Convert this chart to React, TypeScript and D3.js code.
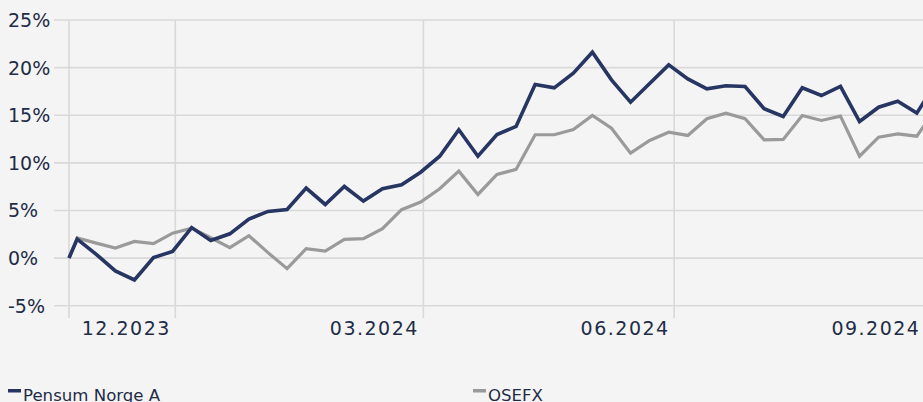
import React, { useRef, useEffect } from 'react';
import * as d3 from 'd3';

// weekly observations (first point is the start date)
const dates = [
  '2023-10-23', '2023-10-26', '2023-11-02', '2023-11-09', '2023-11-16', '2023-11-23', '2023-11-30',
  '2023-12-07', '2023-12-14', '2023-12-21', '2023-12-28', '2024-01-04', '2024-01-11', '2024-01-18',
  '2024-01-25', '2024-02-01', '2024-02-08', '2024-02-15', '2024-02-22', '2024-02-29', '2024-03-07',
  '2024-03-14', '2024-03-21', '2024-03-28', '2024-04-04', '2024-04-11', '2024-04-18', '2024-04-25',
  '2024-05-02', '2024-05-09', '2024-05-16', '2024-05-23', '2024-05-30', '2024-06-06', '2024-06-13',
  '2024-06-20', '2024-06-27', '2024-07-04', '2024-07-11', '2024-07-18', '2024-07-25', '2024-08-01',
  '2024-08-08', '2024-08-15', '2024-08-22', '2024-08-29', '2024-09-05',
];

const pensum = [
  0, 2.0, 0.4, -1.35, -2.3, 0.05, 0.7, 3.2, 1.85, 2.55, 4.1, 4.9, 5.1, 7.35,
  5.63, 7.52, 5.98, 7.28, 7.7, 9.02, 10.7, 13.47, 10.7, 12.98, 13.82, 18.23, 17.88, 19.41,
  21.62, 18.72, 16.37, 18.33, 20.29, 18.82, 17.78, 18.09, 18.02, 15.68, 14.87, 17.88, 17.07, 18.02,
  14.34, 15.84, 16.47, 15.22, 18.4,
];

const osefx = [
  0, 2.12, 1.57, 1.05, 1.75, 1.51, 2.62, 3.15, 2.14, 1.09, 2.35, 0.57, -1.11, 0.99,
  0.73, 1.96, 2.04, 3.08, 5.08, 5.88, 7.28, 9.13, 6.68, 8.78, 9.31, 12.95, 12.95, 13.5,
  14.97, 13.64, 11.02, 12.35, 13.22, 12.88, 14.63, 15.22, 14.63, 12.42, 12.46, 14.97, 14.45, 14.9,
  10.7, 12.7, 13.05, 12.8, 15.7,
];

const yTicks = [-5, 0, 5, 10, 15, 20, 25];
const xTicks = ['2023-12-01', '2024-03-01', '2024-06-01', '2024-09-01'];
const xTickLabels = ['12.2023', '03.2024', '06.2024', '09.2024'];

const seriesNames = ['Pensum Norge A', 'OSEFX'];
const seriesColors = ['#263562', '#9a9a9a'];

const parse = (s: string) => new Date(s + 'T00:00:00Z');

const App = () => {
  const chart = useRef<HTMLDivElement>(null);

  useEffect(() => {
    document.body.style.margin = '0';
    document.body.style.background = '#f4f4f4';
    d3.select(chart.current).selectAll('*').remove();

    const width = 923;
    const height = 402;
    const textColor = '#1e2c47';
    const gridColor = '#d9d9d9';
    const font = 'DejaVu Sans, sans-serif';

    const svg = d3
      .select(chart.current)
      .append('svg')
      .attr('width', width)
      .attr('height', height)
      .style('display', 'block')
      .style('background-color', '#f4f4f4');

    // time scale: start date at x=69, ~2.726px per day
    const start = parse(dates[0]);
    const end = parse('2024-09-01');
    const x = d3.scaleUtc().domain([start, end]).range([69, 69 + 314 * 2.726]);
    const y = d3.scaleLinear().domain([-5, 25]).range([305.7, 20]);

    // horizontal grid + y labels
    svg
      .append('g')
      .selectAll('line')
      .data(yTicks)
      .enter()
      .append('line')
      .attr('x1', 54)
      .attr('x2', width)
      .attr('y1', (d) => y(d))
      .attr('y2', (d) => y(d))
      .attr('stroke', gridColor)
      .attr('stroke-width', 1.6);

    svg
      .append('g')
      .selectAll('text')
      .data(yTicks)
      .enter()
      .append('text')
      .attr('x', 8)
      .attr('y', (d) => y(d) + 7)
      .attr('fill', textColor)
      .style('font-family', font)
      .style('font-size', '19px')
      .text((d) => `${d}%`);

    // vertical grid (start + quarterly ticks)
    const vLines = [start, ...xTicks.map(parse)];
    svg
      .append('g')
      .selectAll('line')
      .data(vLines)
      .enter()
      .append('line')
      .attr('x1', (d) => x(d))
      .attr('x2', (d) => x(d))
      .attr('y1', 20)
      .attr('y2', 318)
      .attr('stroke', gridColor)
      .attr('stroke-width', 1.6);

    svg
      .append('g')
      .selectAll('text')
      .data(xTicks)
      .enter()
      .append('text')
      .attr('x', (d) => x(parse(d)) - 4.5)
      .attr('y', 335)
      .attr('text-anchor', 'end')
      .attr('fill', textColor)
      .style('font-family', font)
      .style('font-size', '19px')
      .style('letter-spacing', '1.5px')
      .text((d, i) => xTickLabels[i]);

    // lines, benchmark underneath
    const line = d3
      .line<number>()
      .x((d, i) => x(parse(dates[i])))
      .y((d) => y(d));

    [osefx, pensum].forEach((values, j) => {
      const idx = j === 0 ? 1 : 0;
      svg
        .append('path')
        .datum(values)
        .attr('d', line)
        .attr('fill', 'none')
        .attr('stroke', seriesColors[idx])
        .attr('stroke-width', idx === 0 ? 3.6 : 3.2)
        .attr('stroke-linejoin', 'miter');
    });

    // legend
    const legendX = [8, 473];
    const legend = svg
      .append('g')
      .selectAll('g')
      .data(seriesNames)
      .enter()
      .append('g')
      .attr('transform', (d, i) => `translate(${legendX[i]}, 0)`);

    legend
      .append('rect')
      .attr('x', 0)
      .attr('y', 389)
      .attr('width', 13)
      .attr('height', 3.5)
      .attr('fill', (d, i) => seriesColors[i]);

    legend
      .append('text')
      .attr('x', 15)
      .attr('y', 400.5)
      .attr('fill', textColor)
      .style('font-family', font)
      .style('font-size', '16.6px')
      .text((d) => d);
  }, []);

  return <div ref={chart}></div>;
};

export default App;
